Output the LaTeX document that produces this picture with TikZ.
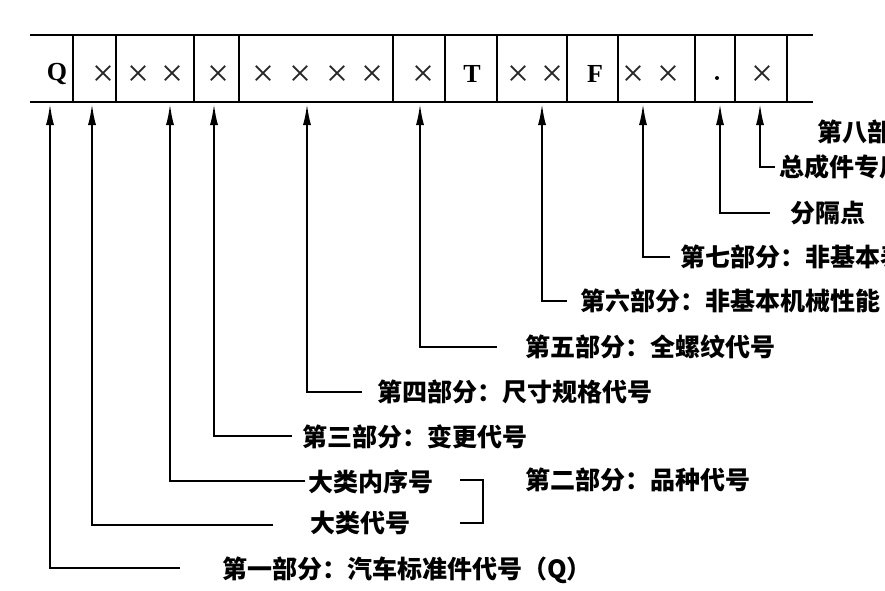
\documentclass[tikz,border=0pt]{standalone}
\usepackage{fontspec}
\newfontfamily\cjk{Noto Sans CJK SC}
\newfontfamily\lat{Liberation Serif}
\usetikzlibrary{arrows.meta}
\begin{document}
\begin{tikzpicture}[x=1pt,y=-1pt,
  band/.style={line width=2.8pt},
  divider/.style={line width=2.2pt},
  arr/.style={line width=2.3pt,-{Latex[length=22pt,width=8pt]}},
  lbl/.style={anchor=west,inner sep=0pt,font=\cjk\bfseries\fontsize{25}{25}\selectfont},
  cell/.style={inner sep=0pt,text=black!85,font=\lat\fontsize{39}{39}\selectfont},
  letter/.style={inner sep=0pt,font=\lat\bfseries\fontsize{26}{26}\selectfont},
  brk/.style={line width=2.8pt}
]
\useasboundingbox (0,0) rectangle (885,590);
\clip (0,0) rectangle (885,590);
\fill[white] (0,0) rectangle (885,590);

% band
\draw[band] (30,35) -- (813,35);
\draw[band] (30,102) -- (813,102);
\foreach \x in {73,116,194,239,393,445,497,567,618,695,735,787}
  \draw[divider] (\x,35) -- (\x,102);

% cell contents
\node[letter] (cq) at (57,74) {Q};
\node[cell] (c1) at (103,76) {×};
\node[cell] (c2) at (138,76) {×};
\node[cell] (c3) at (172,76) {×};
\node[cell] (c4) at (218,76) {×};
\node[cell] (c5) at (263,76) {×};
\node[cell] (c6) at (300,76) {×};
\node[cell] (c7) at (337,76) {×};
\node[cell] (c8) at (372,76) {×};
\node[cell] (c9) at (423,76) {×};
\node[letter] (ct) at (472,74) {T};
\node[cell] (c10) at (518,76) {×};
\node[cell] (c11) at (552,76) {×};
\node[letter] (cf) at (595,74) {F};
\node[cell] (c12) at (633,76) {×};
\node[cell] (c13) at (668,76) {×};
\node[inner sep=0pt,fill,circle,minimum size=4pt] (cdot) at (717,78) {};
\node[cell] (c14) at (762,76) {×};

% arrow targets
\coordinate (p1) at (50,103);
\coordinate (p2) at (92,103);
\coordinate (p3) at (170,103);
\coordinate (p4) at (214,103);
\coordinate (p5) at (307,103);
\coordinate (p6) at (420,103);
\coordinate (p7) at (542,103);
\coordinate (p8) at (643,103);
\coordinate (p9) at (720,103);
\coordinate (p10) at (760,103);

% line ends
\coordinate (e1) at (180,568);
\coordinate (e2) at (273,525);
\coordinate (e3) at (305,481);
\coordinate (e4) at (292,436);
\coordinate (e5) at (362,392);
\coordinate (e6) at (497,347);
\coordinate (e7) at (567,301);
\coordinate (e8) at (670,257);
\coordinate (e9) at (770,213);
\coordinate (e10) at (775,167);

% labels
\node[lbl] (l1) at (222,570) {第一部分：汽车标准件代号（Q）};
\node[lbl] (l2) at (310,523) {大类代号};
\node[lbl] (l3) at (308,482) {大类内序号};
\node[lbl] (l4) at (302,437) {第三部分：变更代号};
\node[lbl] (l5) at (377,392) {第四部分：尺寸规格代号};
\node[lbl] (l6) at (525,347) {第五部分：全螺纹代号};
\node[lbl] (l7) at (580,301) {第六部分：非基本机械性能};
\node[lbl] (l8) at (680,257) {第七部分：非基本表};
\node[lbl] (l9) at (790,213) {分隔点};
\node[lbl] (l10) at (779,167) {总成件专用};
\node[lbl] (l11) at (817,132) {第八部分};
\node[lbl] (l12) at (525,480) {第二部分：品种代号};

% connectors
\foreach \i in {1,...,10}
  \draw[arr] (e\i) -| (p\i);

% bracket
\coordinate (b1) at (460,480);
\coordinate (b2) at (483,480);
\coordinate (b3) at (483,523);
\coordinate (b4) at (460,523);
\draw[brk] (b1) -- (b2) -- (b3) -- (b4);
\end{tikzpicture}
\end{document}
